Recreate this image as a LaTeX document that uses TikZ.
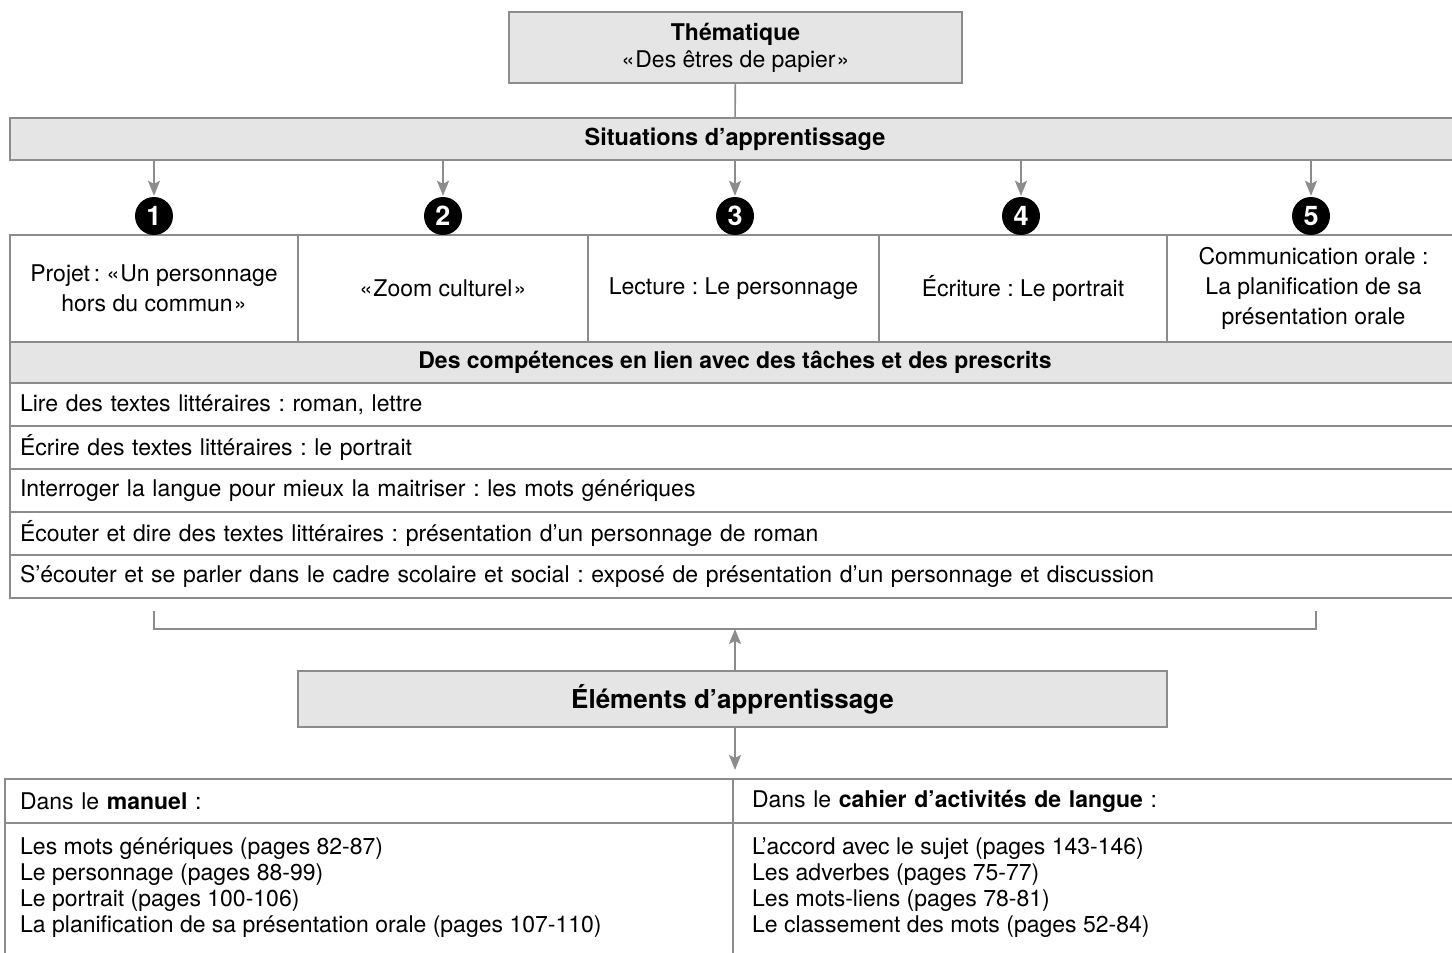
\documentclass[tikz,border=0pt]{standalone}
\usepackage{fontspec}
\setmainfont{TeX Gyre Heros}
\usetikzlibrary{arrows.meta, positioning}
\definecolor{linegray}{RGB}{140,140,140}
\definecolor{boxgray}{RGB}{229,229,229}
\frenchspacing

\tikzset{
  graybox/.style={shape=rectangle, draw=linegray, fill=boxgray, line width=1.6pt, outer sep=0pt, inner sep=0pt, align=center},
  cellbox/.style={shape=rectangle, draw=linegray, line width=1.6pt, outer sep=0pt, inner sep=0pt, minimum height=107pt, align=center, font=\fontsize{23}{30}\selectfont},
  rowbox/.style={shape=rectangle, draw=linegray, line width=1.6pt, outer sep=0pt, inner xsep=10pt, inner ysep=0pt, text width=1430pt, minimum height=43pt, align=left},
  tabhead/.style={shape=rectangle, draw=linegray, line width=1.6pt, outer sep=0pt, inner ysep=0pt, minimum height=44pt, minimum width=728pt, align=left},
  tabtext/.style={shape=rectangle, inner sep=0pt, align=left, font=\fontsize{23}{26}\selectfont},
  numdot/.style={shape=circle, fill=black, text=white, minimum size=38pt, inner sep=0pt, font=\fontsize{27}{27}\selectfont\bfseries},
  link/.style={draw=linegray, line width=1.6pt},
  arrowlink/.style={draw=linegray, line width=1.6pt, -{Stealth[length=15pt,width=12pt,inset=3pt]}}
}

\begin{document}
\begin{tikzpicture}[x=1pt, y=-1pt, font=\fontsize{23}{26}\selectfont]
    \useasboundingbox (0,0) rectangle (1452,953);
    \clip (0,0) rectangle (1452,953);

    \node[graybox, minimum width=453pt, minimum height=71pt, font=\fontsize{23}{27}\selectfont] (them) at (735.5,47.5) {\textbf{Thématique}\\«\kern1pt Des êtres de papier\kern1pt»};
    \node[graybox, minimum width=1450pt, minimum height=42pt, font=\fontsize{23.5}{26}\selectfont\bfseries] (situ) at (735,139) {Situations d’apprentissage};

    \node[cellbox, minimum width=288pt] (s1) at (154,288.5) {Projet\,: «\kern1pt Un personnage\\hors du commun\kern1pt»};
    \node[cellbox, minimum width=290pt, right=0pt of s1] (s2) {«\kern1pt Zoom culturel\kern1pt»};
    \node[cellbox, minimum width=291pt, right=0pt of s2] (s3) {Lecture : Le personnage};
    \node[cellbox, minimum width=288pt, right=0pt of s3] (s4) {Écriture : Le portrait};
    \node[cellbox, minimum width=293pt, right=0pt of s4] (s5) {Communication orale :\\La planification de sa\\présentation orale};

    \node[numdot] (n1) at (154,216) {1};
    \node[numdot] (n2) at (443,216) {2};
    \node[numdot] (n3) at (735,216) {3};
    \node[numdot] (n4) at (1021,216) {4};
    \node[numdot] (n5) at (1311,216) {5};

    \node[graybox, minimum width=1450pt, minimum height=41pt, anchor=north west, font=\fontsize{23}{26}\selectfont\bfseries] (comp) at (s1.south west) {Des compétences en lien avec des tâches et des prescrits};
    \node[rowbox, below=0pt of comp] (r1) {Lire des textes littéraires : roman, lettre};
    \node[rowbox, below=0pt of r1] (r2) {Écrire des textes littéraires : le portrait};
    \node[rowbox, below=0pt of r2] (r3) {Interroger la langue pour mieux la maitriser : les mots génériques};
    \node[rowbox, below=0pt of r3] (r4) {Écouter et dire des textes littéraires : présentation d’un personnage de roman};
    \node[rowbox, below=0pt of r4] (r5) {S’écouter et se parler dans le cadre scolaire et social : exposé de présentation d’un personnage et discussion};

    \coordinate (bkl) at (154,611);
    \coordinate (bkr) at (1316,611);
    \coordinate (bkm) at (735,629);
    \draw[link] (bkl) |- (bkm) -| (bkr);

    \node[graybox, minimum width=869pt, minimum height=56pt, font=\fontsize{26}{30}\selectfont\bfseries] (elem) at (732.5,699) {Éléments d’apprentissage};

    \node[tabhead, text width=698pt, inner xsep=15pt, anchor=north west] (hl) at (5,779) {Dans le \textbf{manuel} :};
    \node[tabhead, text width=690pt, inner xsep=19pt, right=0pt of hl] (hr) {Dans le \textbf{cahier d’activités de langue} :};
    \node[tabtext, below=15pt of hl.south west, anchor=north west, xshift=15pt] (bl) {Les mots génériques (pages 82-87)\\Le personnage (pages 88-99)\\Le portrait (pages 100-106)\\La planification de sa présentation orale (pages 107-110)};
    \node[tabtext, below=15pt of hr.south west, anchor=north west, xshift=19pt] (br) {L’accord avec le sujet (pages 143-146)\\Les adverbes (pages 75-77)\\Les mots-liens (pages 78-81)\\Le classement des mots (pages 52-84)};
    \draw[link] (hl.south west) -- ++(0,200);
    \draw[link] (hl.south east) -- ++(0,200);

    \draw[link] (them) -- (situ);
    \foreach \i in {1,...,5}
      \draw[arrowlink, shorten >=1pt] (situ.south -| n\i) -- (n\i);
    \draw[arrowlink] (elem.north -| bkm) -- (bkm);
    \draw[arrowlink, shorten >=9pt] (elem.south -| bkm) -- (bkm |- hl.north);
\end{tikzpicture}
\end{document}
